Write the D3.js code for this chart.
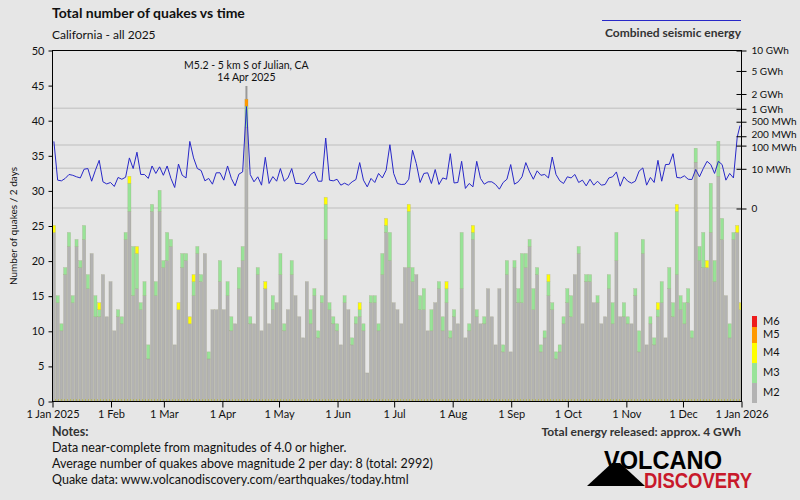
<!DOCTYPE html>
<html>
<head>
<meta charset="utf-8">
<script src="https://cdn.jsdelivr.net/npm/d3@7"></script>
<style>
    body { margin: 0; background: #e6e6e6; }
    svg text { font-family: Lato, "Open Sans", sans-serif; fill: #111; }
</style>
</head>
<body>
<div id="chart"></div>
<script>
// quakes per 2-day bin, split by magnitude class
var m2 = [24,14,10,18,22,14,22,19,23,16, 21,12,12,18,12,17,10,12,11,23,
          27,15,16,13,15,6,27,15,27,19, 20,22,8,13,19,20,11,15,21,17,
          21,6,13,13,17,13,15,10,11,16, 20,39,11,11,18,10,16,11,13,14,
          18,10,13,18,15,12,9,17,11,15, 9,14,23,13,11,10,8,14,13,8,
          11,12,10,4,14,14,10,18,24,20, 14,13,11,19,19,17,18,13,13,10,
          10,14,16,10,14,9,12,11,16,9, 10,23,12,11,11,16,12,8,16,7,
          18,7,19,14,14,19,22,13,18,7, 9,15,13,6,7,11,14,12,18,21,
          11,17,17,14,14,11,12,16,11,20, 12,12,11,11,15,7,21,8,11,8,
          12,14,9,16,12,18,13,11,14,9, 34,20,19,19,24,17,32,23,15,9,
          23,24,13];
var m3 = [0,1,1,1,2,1,1,1,2,2, 0,3,1,0,0,0,0,1,1,1,
          4,7,5,1,2,2,1,2,3,1, 4,1,0,0,2,1,0,2,1,1,
          0,1,0,0,3,0,2,2,0,3, 2,3,1,0,1,0,0,0,2,0,
          3,1,0,2,0,0,0,0,2,1, 1,1,5,1,1,1,0,1,0,1,
          1,1,1,0,1,1,1,3,1,4, 0,0,0,0,8,2,0,2,3,0,
          3,0,1,2,2,1,1,0,8,0, 1,1,1,0,1,0,0,0,0,1,
          2,0,1,2,7,2,1,3,1,1, 1,2,1,1,1,1,2,3,0,1,
          0,1,1,0,1,0,0,2,3,4, 0,2,1,0,1,3,2,0,1,1,
          1,3,0,3,2,9,2,3,2,1, 2,2,5,0,7,3,5,3,0,2,
          1,0,0];
var m4 = [1,0,0,0,0,0,0,0,0,0, 0,0,1,0,0,0,0,0,0,0,
          1,0,1,0,0,0,0,0,0,0, 0,0,0,1,0,0,1,1,0,0,
          0,0,0,0,0,0,0,0,0,0, 0,0,0,0,0,0,1,0,0,0,
          0,0,0,0,0,0,0,0,0,0, 0,0,1,0,0,0,0,0,0,0,
          0,1,0,0,0,0,0,0,1,0, 0,0,0,0,1,0,0,0,0,0,
          0,0,0,0,1,0,0,0,0,0, 0,1,0,0,0,0,0,0,0,0,
          0,0,0,0,0,0,0,0,0,0, 0,1,0,0,0,0,0,0,0,0,
          0,0,0,0,0,0,0,0,0,0, 0,0,0,0,0,0,0,0,0,0,
          1,0,0,0,0,1,0,0,0,0, 0,0,0,1,0,0,0,0,0,0,
          0,1,1];
// rare classes, keyed by bin index
var m5 = {51: 1};
var m6 = {};

// combined seismic energy per bin, MWh
var energy = [133,1.7,1.5,2.3,4.3,3.8,3.0,2.5,8.9,9.7,
              1.4,7.8,25,1.25,0.82,1.1,0.47,2.7,2.0,2.8,
              32,9.7,55,4.3,4.3,2.3,13.3,5.0,12,3.8,
              13.3,2.3,0.37,16.7,3.8,2.5,133,32,9.7,7.5,
              1.5,2.3,0.78,5.5,5.5,1.7,13.3,2.3,0.54,4.5,
              6.2,1088,4.3,1.25,3.0,0.63,34,0.9,3.1,1.4,
              9.7,1.4,2.5,9.7,0.9,0.9,0.73,1.4,4.3,6.2,
              1.4,1.4,170,1.7,1.5,2.0,0.63,0.96,0.63,1.25,
              1.9,19.6,1.7,0.43,2.3,1.1,5.0,2.5,7.8,103,
              5.0,0.9,0.73,
              0.78,2.0,65,17.5,1.1,5.0,5.5,0.9,8.6,0.73,
              2.5,2.0,48,1.0,1.1,22.5,0.29,0.9,0.43,22.5,
              2.3,0.78,1.25,1.25,0.73,0.24,1.1,2.0,15.7,0.78,
              1.25,3.0,19.6,6.2,2.0,7.2,3.8,4.3,2.5,35,
              4.3,1.5,0.9,3.0,2.5,4.3,1.1,1.7,0.54,2.0,
              0.63,1.4,0.63,0.73,2.5,3.0,6.2,0.5,3.0,1.4,
              0.96,1.4,6.9,10.5,0.63,2.7,1.1,25,1.4,15.7,
              16.2,48,2.7,2.5,3.5,2.0,1.9,8.6,3.0,9.7,
              22.5,15.7,5.0,22.5,15.7,1.7,5.0,2.5,182,388];

var yTicks = [0,5,10,15,20,25,30,35,40,45,50];
var monthLabels = ["1 Jan 2025","1 Feb","1 Mar","1 Apr","1 May","1 Jun","1 Jul",
                   "1 Aug","1 Sep","1 Oct","1 Nov","1 Dec","1 Jan 2026"];
var eTicks = [10000,5000,2000,1000,500,200,100,10,0];
var eLabels = ["10 GWh","5 GWh","2 GWh","1 GWh","500 MWh","200 MWh","100 MWh","10 MWh","0"];
var eGrid = [1000,100,10,0];

var classKeys = ["m2","m3","m4","m5","m6"];
var classLabels = ["M2","M3","M4","M5","M6"];
var classColors = {m2:"#b3b3b3", m3:"#98e398", m4:"#ffff00", m5:"#ff9900", m6:"#ee1c1c"};

var notes = ["Data near-complete from magnitudes of 4.0 or higher.",
             "Average number of quakes above magnitude 2 per day: 8 (total: 2992)",
             "Quake data: www.volcanodiscovery.com/earthquakes/today.html"];

var width = 800, height = 500;
var svg = d3.select("#chart").append("svg")
    .attr("width", width)
    .attr("height", height);

svg.append("rect").attr("width", width).attr("height", height).attr("fill", "#e6e6e6");

var start = new Date(Date.UTC(2025,0,1)), end = new Date(Date.UTC(2026,0,1));
var x = d3.scaleUtc().domain([start, end]).range([52, 741]);
var y = d3.scaleLinear().domain([0, 50]).range([401, 50]);
var yE = d3.scalePow().exponent(0.2).domain([0, 10000]).range([208, 50]);

// one row per 2 day bin
var rows = m2.map(function(v, i){
    var t0 = d3.utcDay.offset(start, 2*i);
    var t1 = d3.utcDay.offset(start, 2*i+2);
    if (t1 > end) t1 = end;
    return {i:i, t0:t0, t1:t1, m2:v, m3:m3[i], m4:m4[i], m5:m5[i]||0, m6:m6[i]||0, e:energy[i]};
});

// energy grid lines (behind bars)
svg.append("g").selectAll("line")
    .data(eGrid).enter().append("line")
    .attr("x1", 52).attr("x2", 741)
    .attr("y1", function(d){ return yE(d); })
    .attr("y2", function(d){ return yE(d); })
    .attr("stroke", "#cbcbcb")
    .attr("stroke-width", 1.5);

// stacked bars
var stacked = d3.stack().keys(classKeys)(rows);
svg.append("g").selectAll("g")
    .data(stacked).enter().append("g")
    .attr("fill", function(d){ return classColors[d.key]; })
    .selectAll("rect")
    .data(function(d){ return d.filter(function(p){ return p[1] > p[0]; }); })
    .enter().append("rect")
    .attr("x", function(d){ return x(d.data.t0) + 0.3; })
    .attr("width", function(d){ return x(d.data.t1) - x(d.data.t0) - 0.6; })
    .attr("y", function(d){ return y(d[1]); })
    .attr("height", function(d){ return y(d[0]) - y(d[1]); })
    .attr("stroke", "rgba(130,130,80,0.35)")
    .attr("stroke-width", 0.5);

// dotted baseline
svg.append("line")
    .attr("x1", 52).attr("x2", 741).attr("y1", 400).attr("y2", 400)
    .attr("stroke", "#b8b800").attr("stroke-dasharray", "1,2");

// energy line
var line = d3.line()
    .x(function(d){ return (x(d.t0) + x(d.t1)) / 2; })
    .y(function(d){ return yE(d.e); });
svg.append("path")
    .datum(rows)
    .attr("d", line)
    .attr("fill", "none")
    .attr("stroke", "#2828c8")
    .attr("stroke-width", 1);

// frame
svg.append("rect")
    .attr("x", 52.5).attr("y", 50.5)
    .attr("width", 741 - 52).attr("height", 401 - 50)
    .attr("fill", "none").attr("stroke", "#000").attr("stroke-width", 1);

// left axis
var yAxis = svg.append("g")
    .attr("transform", "translate(52.5,0.5)")
    .call(d3.axisLeft(y).tickValues(yTicks).tickSize(4).tickPadding(4));
yAxis.select(".domain").remove();
yAxis.selectAll("text").style("font-size", "11px").style("font-family", "Lato");

svg.append("text")
    .attr("transform", "translate(17,226) rotate(-90)")
    .attr("text-anchor", "middle")
    .style("font-size", "10px")
    .text("Number of quakes / 2 days");

// bottom axis
var xAxis = svg.append("g")
    .attr("transform", "translate(0.5,401.5)")
    .call(d3.axisBottom(x)
        .tickValues(d3.utcMonth.range(start, d3.utcDay.offset(end, 1)))
        .tickFormat(function(d, i){ return monthLabels[i]; })
        .tickSize(6).tickPadding(3));
xAxis.select(".domain").remove();
xAxis.selectAll("text").style("font-size", "11px").style("font-family", "Lato");

// right energy axis
var eAxis = svg.append("g")
    .attr("transform", "translate(741.5,0.5)")
    .call(d3.axisRight(yE).tickValues(eTicks)
        .tickFormat(function(d, i){ return eLabels[i]; })
        .tickSize(5).tickPadding(5));
eAxis.select(".domain").remove();
eAxis.selectAll(".tick line").attr("x1", -5);
eAxis.selectAll("text").style("font-size", "10px").style("font-family", "Lato");
// 200 and 100 MWh sit very close, nudge their labels apart a bit
eAxis.selectAll(".tick text").attr("dy", function(d){
    return d === 200 ? "0.1em" : (d === 100 ? "0.5em" : "0.32em");
});

// titles
svg.append("text").attr("x", 52).attr("y", 18)
    .style("font-size", "14px").style("font-weight", "bold")
    .text("Total number of quakes vs time");
svg.append("text").attr("x", 52).attr("y", 39)
    .style("font-size", "12px")
    .text("California - all 2025");

// energy legend
svg.append("line")
    .attr("x1", 602).attr("x2", 741).attr("y1", 20.5).attr("y2", 20.5)
    .attr("stroke", "#2828c8");
svg.append("text").attr("x", 741).attr("y", 37)
    .attr("text-anchor", "end")
    .style("font-size", "12px").style("font-weight", "bold").style("fill", "#333")
    .text("Combined seismic energy");

// annotation for the biggest quake
var big = rows[51];
var bigX = (x(big.t0) + x(big.t1)) / 2;
svg.append("line")
    .attr("x1", bigX).attr("x2", bigX)
    .attr("y1", 86).attr("y2", y(big.m2 + big.m3 + big.m4 + big.m5 + big.m6))
    .attr("stroke", "#999").attr("stroke-width", 2);
svg.append("text").attr("x", bigX).attr("y", 69)
    .attr("text-anchor", "middle").style("font-size", "10.5px")
    .text("M5.2 - 5 km S of Julian, CA");
svg.append("text").attr("x", bigX).attr("y", 81)
    .attr("text-anchor", "middle").style("font-size", "10.5px")
    .text("14 Apr 2025");

// magnitude legend
var legendEdges = [316, 327, 343, 363, 383, 403];
var legendOrder = classKeys.slice().reverse();
var lg = svg.append("g");
legendOrder.forEach(function(k, i){
    lg.append("rect")
        .attr("x", 752).attr("width", 5)
        .attr("y", legendEdges[i]).attr("height", legendEdges[i+1] - legendEdges[i])
        .attr("fill", classColors[k]);
    lg.append("text")
        .attr("x", 763).attr("y", (legendEdges[i] + legendEdges[i+1]) / 2 + 3)
        .style("font-size", "11px")
        .text(classLabels[classKeys.indexOf(k)]);
});

// notes
svg.append("text").attr("x", 52).attr("y", 436)
    .style("font-size", "12.5px").style("font-weight", "bold").style("fill", "#333")
    .text("Notes:");
svg.selectAll(".note").data(notes).enter().append("text")
    .attr("class", "note")
    .attr("x", 52).attr("y", function(d, i){ return 452 + i*16; })
    .style("font-size", "12.5px")
    .text(function(d){ return d; });
svg.append("text").attr("x", 741).attr("y", 436)
    .attr("text-anchor", "end")
    .style("font-size", "12px").style("font-weight", "bold").style("fill", "#333")
    .text("Total energy released: approx. 4 GWh");

// logo
svg.append("path")
    .attr("d", "M587,486 L612,463 L620,463 L645,486 Z")
    .attr("fill", "#000");
svg.append("text").attr("x", 604).attr("y", 469)
    .attr("textLength", 118).attr("lengthAdjust", "spacingAndGlyphs")
    .style("font-family", "'Liberation Sans Narrow','Liberation Sans',sans-serif")
    .style("font-size", "26px").style("font-weight", "bold").style("fill", "#000")
    .text("VOLCANO");
svg.append("text").attr("x", 644).attr("y", 488)
    .attr("textLength", 108).attr("lengthAdjust", "spacingAndGlyphs")
    .style("font-family", "'Liberation Sans Narrow','Liberation Sans',sans-serif")
    .style("font-size", "22px").style("font-weight", "bold").style("fill", "#c8192b")
    .text("DISCOVERY");
</script>
</body>
</html>
